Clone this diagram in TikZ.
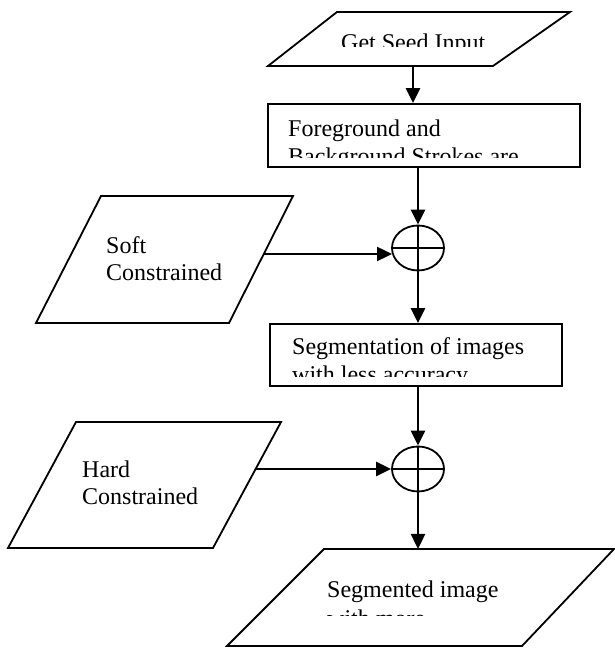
\documentclass[tikz,border=0pt]{standalone}
\usepackage{fontspec}
\setmainfont{Liberation Serif}
\usetikzlibrary{arrows.meta,shapes.geometric}
\begin{document}
\begin{tikzpicture}[x=1pt,y=1pt,
  shapeline/.style={draw=black,line width=1.8pt,line join=miter},
  arr/.style={line width=2.4pt,-{Triangle[length=15pt,width=14pt]}},
  lbl/.style={font=\fontsize{24}{27.6}\selectfont,inner sep=0pt,anchor=base west},
  boxnode/.style={shapeline,rectangle,inner sep=0pt},
  sumnode/.style={shapeline,ellipse,minimum width=52pt,minimum height=45pt,inner sep=0pt}]
\useasboundingbox (0,0) rectangle (615,648);
\fill[white] (0,0) rectangle (615,648);

% ---- Get Seed Input (parallelogram)
\draw[shapeline] (337,636) -- (570,636) -- (493,582) -- (268,582) -- cycle;
\coordinate (seedB) at (413,582);
\begin{scope}
  \clip (268,601) rectangle (570,636);
  \node[lbl] (tseed) at (341,597) {Get Seed Input};
\end{scope}

% ---- Foreground / Background rectangle
\node[boxnode,minimum width=312pt,minimum height=63pt] (r1) at (424,512.5) {};
\begin{scope}
  \clip (268,490) rectangle (580,544);
  \node[lbl] (tr1a) at (288,511) {Foreground and};
  \node[lbl] (tr1b) at (288,483.4) {Background Strokes are};
\end{scope}

% ---- first sum
\node[sumnode] (c1) at (418,400) {};
\draw[line width=1.8pt] (c1.north) -- (c1.south) (c1.west) -- (c1.east);

% ---- Soft Constrained (parallelogram)
\draw[shapeline] (101,452) -- (293,452) -- (229,325) -- (36,325) -- cycle;
\node[lbl] (tsoft1) at (106,394) {Soft};
\node[lbl] (tsoft2) at (106,367) {Constrained};
\coordinate (sa) at (264,394);

% ---- Segmentation rectangle
\node[boxnode,minimum width=292pt,minimum height=62pt] (r2) at (416,293) {};
\begin{scope}
  \clip (270,271) rectangle (562,324);
  \node[lbl] (tr2a) at (292,293) {Segmentation of images};
  \node[lbl] (tr2b) at (292,265.4) {with less accuracy};
\end{scope}

% ---- second sum
\node[sumnode] (c2) at (418,179) {};
\draw[line width=1.8pt] (c2.north) -- (c2.south) (c2.west) -- (c2.east);

% ---- Hard Constrained (parallelogram)
\draw[shapeline] (76,226) -- (281,226) -- (213,100) -- (8,100) -- cycle;
\node[lbl] (thard1) at (82,170) {Hard};
\node[lbl] (thard2) at (82,143) {Constrained};
\coordinate (ha) at (256,179);

% ---- Segmented image (parallelogram)
\draw[shapeline] (324,99) -- (614,99) -- (522,2) -- (227,2) -- cycle;
\coordinate (outT) at (417,99);
\begin{scope}
  \clip (227,32) rectangle (614,99);
  \node[lbl] (tout1) at (327,50) {Segmented image};
  \node[lbl] (tout2) at (327,21) {with more};
\end{scope}

% ---- connectors
\draw[arr] (seedB) -- (seedB |- r1.north);
\draw[arr] (c1.north |- r1.south) -- (c1.north);
\draw[arr] (sa) -- (sa -| c1.193);
\draw[arr] (c1.south) -- (c1.south |- r2.north);
\draw[arr] (c2.north |- r2.south) -- (c2.north);
\draw[arr] (ha) -- (c2.west);
\draw[arr] (c2.south) -- (c2.south |- outT);
\end{tikzpicture}
\end{document}
